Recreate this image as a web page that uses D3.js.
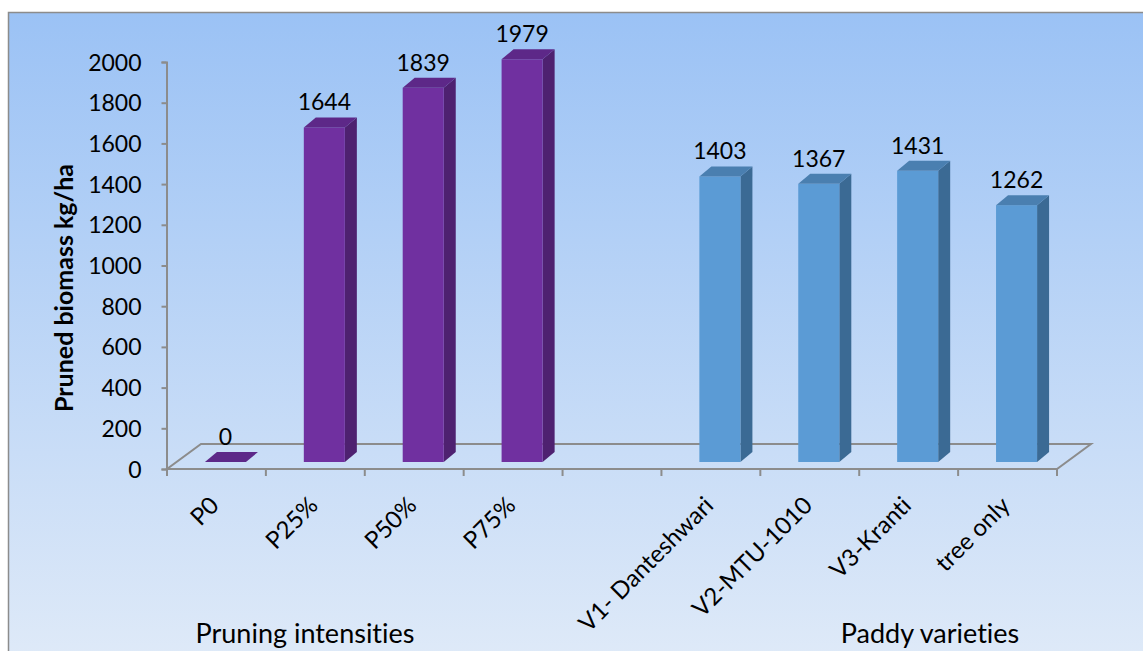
<!DOCTYPE html>
<html>
<head>
<meta charset="utf-8">
<script src="https://cdn.jsdelivr.net/npm/d3@7"></script>
<style>
  body { margin: 0; background: #fff; }
  svg text { font-family: Lato, "Open Sans", sans-serif; fill: #000; font-variant-ligatures: none; }
</style>
</head>
<body>
<svg id="canvas"></svg>
<script>
// chart data
let categories = ['P0', 'P25%', 'P50%', 'P75%', '', 'V1- Danteshwari', 'V2-MTU-1010', 'V3-Kranti', 'tree only'];
let values = [0, 1644, 1839, 1979, null, 1403, 1367, 1431, 1262];
let groups = ['prune', 'prune', 'prune', 'prune', null, 'paddy', 'paddy', 'paddy', 'paddy'];
let yTicks = [0, 200, 400, 600, 800, 1000, 1200, 1400, 1600, 1800, 2000];
let groupLabels = ['Pruning intensities', 'Paddy varieties'];

let width = 1143;
let height = 651;

// 3d depth of the floor and of the bars
let floorDx = 34, floorDy = -25;
let barDx = 9, barDy = -7;
let barDepthX = 12, barDepthY = -10;

let colors = {
    prune: { front: '#7030a0', side: '#4e2170', top: '#5d2888' },
    paddy: { front: '#5b9bd5', side: '#3b6a94', top: '#4a7fb0' }
};

let canvas = d3.select('#canvas')
    .attr('width', width)
    .attr('height', height);

let xScale = d3.scaleBand()
    .domain(categories)
    .range([167, 1057]);

let yScale = d3.scaleLinear()
    .domain([0, 2000])
    .range([469, 62]);

function drawBackground () {
    let defs = canvas.append('defs');
    let grad = defs.append('linearGradient')
        .attr('id', 'bg')
        .attr('x1', 0).attr('y1', 0).attr('x2', 0).attr('y2', 1);
    grad.append('stop').attr('offset', '0%').attr('stop-color', '#9bc2f5');
    grad.append('stop').attr('offset', '100%').attr('stop-color', '#dfeaf8');

    canvas.append('rect')
        .attr('x', 8.5)
        .attr('y', 12.5)
        .attr('width', width)
        .attr('height', height)
        .attr('fill', 'url(#bg)')
        .attr('stroke', '#8c8c8c')
        .attr('stroke-width', 1.5);
}

function drawFloor () {
    let x0 = xScale.range()[0];
    let x1 = xScale.range()[1];
    let y0 = yScale(0);
    let pts = [[x0, y0], [x1, y0], [x1 + floorDx, y0 + floorDy], [x0 + floorDx, y0 + floorDy]];
    canvas.append('polygon')
        .attr('points', pts.map(p => p.join(',')).join(' '))
        .attr('fill', 'none')
        .attr('stroke', '#8c8c8c')
        .attr('stroke-width', 2);
}

function drawAxis () {
    let yAxis = d3.axisLeft(yScale)
        .tickValues(yTicks)
        .tickSize(5)
        .tickPadding(20)
        .tickFormat(d3.format('d'));

    let gy = canvas.append('g')
        .attr('transform', 'translate(' + (xScale.range()[0] - 0.5) + ', 0)')
        .call(yAxis);
    gy.select('.domain').attr('stroke', '#8c8c8c').attr('stroke-width', 2);
    gy.selectAll('.tick line').attr('stroke', '#8c8c8c').attr('stroke-width', 2);
    gy.selectAll('.tick text')
        .style('font-size', '23px')
        .attr('dy', '0.35em');

    // category ticks at the band edges
    let edges = categories.map(c => xScale(c)).concat([xScale.range()[1]]);
    canvas.append('g')
        .selectAll('line')
        .data(edges)
        .enter()
        .append('line')
        .attr('x1', d => d).attr('x2', d => d)
        .attr('y1', yScale(0)).attr('y2', yScale(0) + 7)
        .attr('stroke', '#8c8c8c')
        .attr('stroke-width', 2);

    // rotated category labels
    canvas.append('g')
        .selectAll('text')
        .data(categories)
        .enter()
        .append('text')
        .attr('text-anchor', 'end')
        .attr('transform', d => 'translate(' + (xScale(d) + xScale.bandwidth() / 2 + 4) + ',' + 507 + ') rotate(-45)')
        .style('font-size', '24px')
        .text(d => d);

    canvas.append('text')
        .attr('transform', 'translate(73, 288) rotate(-90)')
        .attr('text-anchor', 'middle')
        .style('font-size', '25px')
        .style('font-weight', 'bold')
        .text('Pruned biomass kg/ha');

    canvas.append('text')
        .attr('x', 305).attr('y', 643)
        .attr('text-anchor', 'middle')
        .style('font-size', '27px')
        .text(groupLabels[0]);

    canvas.append('text')
        .attr('x', 930).attr('y', 643)
        .attr('text-anchor', 'middle')
        .style('font-size', '27px')
        .text(groupLabels[1]);
}

function drawBars () {
    let data = categories.map((c, i) => ({ cat: c, value: values[i], group: groups[i] }))
        .filter(d => d.value !== null);
    let bw = xScale.bandwidth() * 0.415;

    let bars = canvas.append('g')
        .selectAll('g')
        .data(data)
        .enter()
        .append('g');

    let geom = d => {
        let xl = xScale(d.cat) + (xScale.bandwidth() - bw) / 2 + barDx;
        let xr = xl + bw;
        let yb = yScale(0) + barDy;
        let yt = yScale(d.value) + barDy;
        return { xl, xr, yb, yt };
    };
    let pts = arr => arr.map(p => p.join(',')).join(' ');

    // side face
    bars.filter(d => d.value > 0)
        .append('polygon')
        .attr('points', d => {
            let g = geom(d);
            return pts([[g.xr, g.yb], [g.xr + barDepthX, g.yb + barDepthY], [g.xr + barDepthX, g.yt + barDepthY], [g.xr, g.yt]]);
        })
        .attr('fill', d => colors[d.group].side);

    // front face
    bars.filter(d => d.value > 0)
        .append('rect')
        .attr('x', d => geom(d).xl)
        .attr('y', d => geom(d).yt)
        .attr('width', bw)
        .attr('height', d => geom(d).yb - geom(d).yt)
        .attr('fill', d => colors[d.group].front);

    // top face
    bars.append('polygon')
        .attr('points', d => {
            let g = geom(d);
            return pts([[g.xl, g.yt], [g.xr, g.yt], [g.xr + barDepthX, g.yt + barDepthY], [g.xl + barDepthX, g.yt + barDepthY]]);
        })
        .attr('fill', d => colors[d.group].top);

    // value labels
    canvas.append('g')
        .selectAll('text')
        .data(data)
        .enter()
        .append('text')
        .attr('x', d => xScale(d.cat) + xScale.bandwidth() / 2 + barDx)
        .attr('y', d => yScale(d.value) - 24)
        .attr('text-anchor', 'middle')
        .style('font-size', '23px')
        .text(d => d.value);
}

drawBackground();
drawFloor();
drawAxis();
drawBars();
</script>
</body>
</html>
